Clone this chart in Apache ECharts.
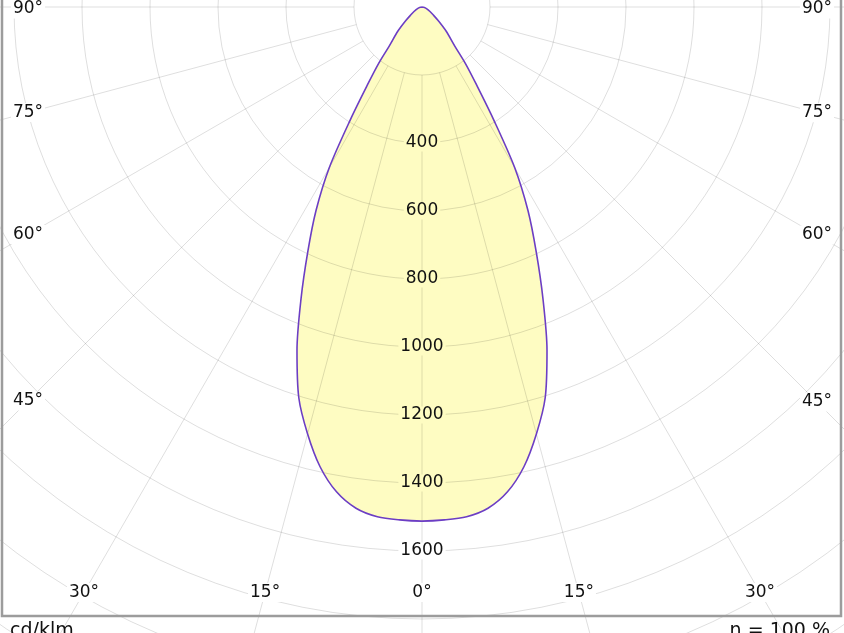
<!DOCTYPE html>
<html>
<head>
<meta charset="utf-8">
<title>cd/klm</title>
<script src="https://cdn.jsdelivr.net/npm/echarts@6/dist/echarts.min.js"></script>
<style>
  html, body { margin: 0; padding: 0; background: #fff; }
  #chart { width: 844px; height: 633px; }
</style>
</head>
<body>
<div id="chart"></div>
<script>
// 光强分布曲线 (C0-C180 平面)
const angles = [-90, -80, -70, -60, -55, -50, -45, -40, -37.5, -35, -32.5, -30, -27.5, -25, -22.5, -20, -17.5, -15, -12.5, -10, -7.5, -5, -2.5,
  0, 2.5, 5, 7.5, 10, 12.5, 15, 17.5, 20, 22.5, 25, 27.5, 30, 32.5, 35, 37.5, 40, 45, 50, 55, 60, 70, 80, 90]
const intensity = [0, 5, 14, 28, 40, 62, 100, 150, 210, 280, 390, 545, 675, 795, 930, 1075, 1205, 1300, 1385, 1448, 1487, 1505, 1510,
  1512, 1510, 1505, 1487, 1448, 1385, 1300, 1205, 1075, 930, 795, 675, 545, 390, 280, 210, 150, 100, 62, 40, 28, 14, 5, 0]
const radiusTicks = [400, 600, 800, 1000, 1200, 1400, 1600]
const angleTicks = [-90, -75, -60, -45, -30, -15, 0, 15, 30, 45, 60, 75, 90]
const unitText = 'cd/klm'
const effText = 'η = 100 %'

// 坐标系几何
const cx = 422
const cy = 7
const rMin = 200
const rMax = 2200
const innerR = 68
const outerR = 748
const font = '"DejaVu Sans", Verdana, sans-serif'
const fillColor = '#fefcc2'
const lineColor = '#6c3ec4'
const gridColor = 'rgba(0,0,0,0.13)'

const myChart = echarts.init(document.getElementById('chart'))

const points = angles.map((a, i) => [intensity[i], a])
const peak = intensity[angles.indexOf(0)]

// 角度标签放在径向线与边框内侧的交点
const labelBox = { left: 28, right: 817, bottom: 592.5, top: 9 }
const angleLabels = angleTicks.map(function (a) {
  const rad = a * Math.PI / 180
  const dx = Math.sin(rad)
  const dy = Math.cos(rad)
  let t = Infinity
  if (dx < -1e-6) t = Math.min(t, (cx - labelBox.left) / -dx)
  if (dx > 1e-6) t = Math.min(t, (labelBox.right - cx) / dx)
  if (dy > 1e-6) t = Math.min(t, (labelBox.bottom - cy) / dy)
  return {
    type: 'text',
    x: cx + dx * t,
    y: Math.max(labelBox.top, cy + dy * t),
    z: 20,
    style: {
      text: Math.abs(a) + '°',
      font: '17px ' + font,
      fill: '#111',
      align: 'center',
      verticalAlign: 'middle',
      backgroundColor: '#fff',
      padding: [1, 2],
    },
  }
})

const option = {
  backgroundColor: '#fff',
  animation: false,
  polar: [
    { center: [cx, cy], radius: [innerR, outerR] },
    { center: [cx, cy], radius: outerR },
  ],
  angleAxis: [
    {
      polarIndex: 0,
      type: 'value',
      min: -180,
      max: 180,
      interval: 15,
      startAngle: 90,
      clockwise: true,
      z: 5,
      axisLine: { show: false },
      axisTick: { show: false },
      axisLabel: { show: false },
      splitLine: { show: true, lineStyle: { color: gridColor, width: 1 } },
    },
    {
      polarIndex: 1,
      type: 'value',
      min: -180,
      max: 180,
      startAngle: 90,
      clockwise: true,
      axisLine: { show: false },
      axisTick: { show: false },
      axisLabel: { show: false },
      splitLine: { show: false },
    },
  ],
  radiusAxis: [
    {
      polarIndex: 0,
      type: 'value',
      min: rMin,
      max: rMax,
      interval: 200,
      z: 5,
      axisLine: { show: false },
      axisTick: { show: false },
      axisLabel: { show: false },
      splitLine: { show: true, lineStyle: { color: gridColor, width: 1 } },
    },
    {
      polarIndex: 1,
      type: 'value',
      min: 0,
      max: rMax,
      axisLine: { show: false },
      axisTick: { show: false },
      axisLabel: { show: false },
      splitLine: { show: false },
    },
  ],
  series: [
    {
      // 填充
      type: 'line',
      coordinateSystem: 'polar',
      polarIndex: 1,
      data: points,
      symbol: 'none',
      smooth: 0.3,
      silent: true,
      z: 2,
      lineStyle: { width: 0, opacity: 0 },
      areaStyle: { color: fillColor, opacity: 1 },
    },
    {
      // 轮廓线
      type: 'line',
      coordinateSystem: 'polar',
      polarIndex: 1,
      data: points,
      symbol: 'none',
      smooth: 0.3,
      silent: true,
      z: 8,
      lineStyle: { color: lineColor, width: 1.6 },
    },
    {
      // 半径刻度标签
      type: 'scatter',
      coordinateSystem: 'polar',
      polarIndex: 1,
      silent: true,
      z: 10,
      symbolSize: 1,
      itemStyle: { color: 'rgba(0,0,0,0)', opacity: 1 },
      data: radiusTicks.map(function (r) {
        return { value: [r, 0], label: { backgroundColor: r < peak ? fillColor : '#fff' } }
      }),
      label: {
        show: true,
        position: 'inside',
        formatter: function (p) { return p.value[0] },
        color: '#111',
        fontFamily: font,
        fontSize: 17,
        padding: [0, 2],
      },
    },
  ],
  graphic: angleLabels.concat([
    {
      type: 'rect',
      z: 30,
      shape: { x: 2, y: -10, width: 839, height: 626 },
      style: { fill: 'none', stroke: '#9c9c9c', lineWidth: 2.5 },
    },
    {
      type: 'text',
      x: 10,
      y: 622,
      z: 30,
      style: { text: unitText, font: '19px ' + font, fill: '#111', align: 'left', verticalAlign: 'top' },
    },
    {
      type: 'text',
      x: 830,
      y: 622,
      z: 30,
      style: { text: effText, font: '19px ' + font, fill: '#111', align: 'right', verticalAlign: 'top' },
    },
  ]),
}
myChart.setOption(option)
window.addEventListener('resize', function () {
  myChart.resize()
})
</script>
</body>
</html>
